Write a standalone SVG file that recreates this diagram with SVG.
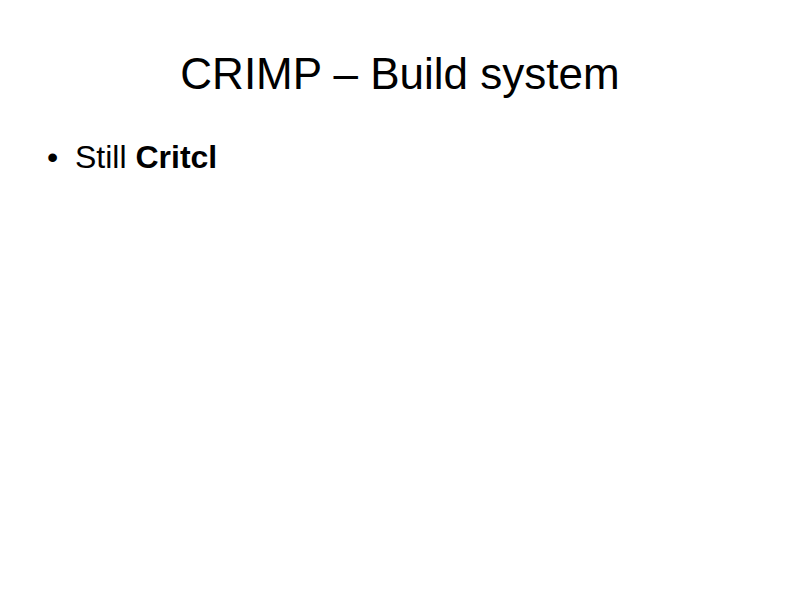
<svg xmlns="http://www.w3.org/2000/svg" width="800" height="600" viewBox="0 0 800 600">
<style>
text { font-family: "Liberation Sans", Arial, sans-serif; fill: #000; }
.title { font-size: 44px; }
.body { font-size: 32px; }
</style>
<rect width="800" height="600" fill="#fff"/>
<text class="title" x="400" y="89" text-anchor="middle">CRIMP – Build system</text>
<text class="body" x="47" y="168">•</text>
<text class="body" x="75" y="168">Still <tspan font-weight="bold">Critcl</tspan></text>
</svg>
